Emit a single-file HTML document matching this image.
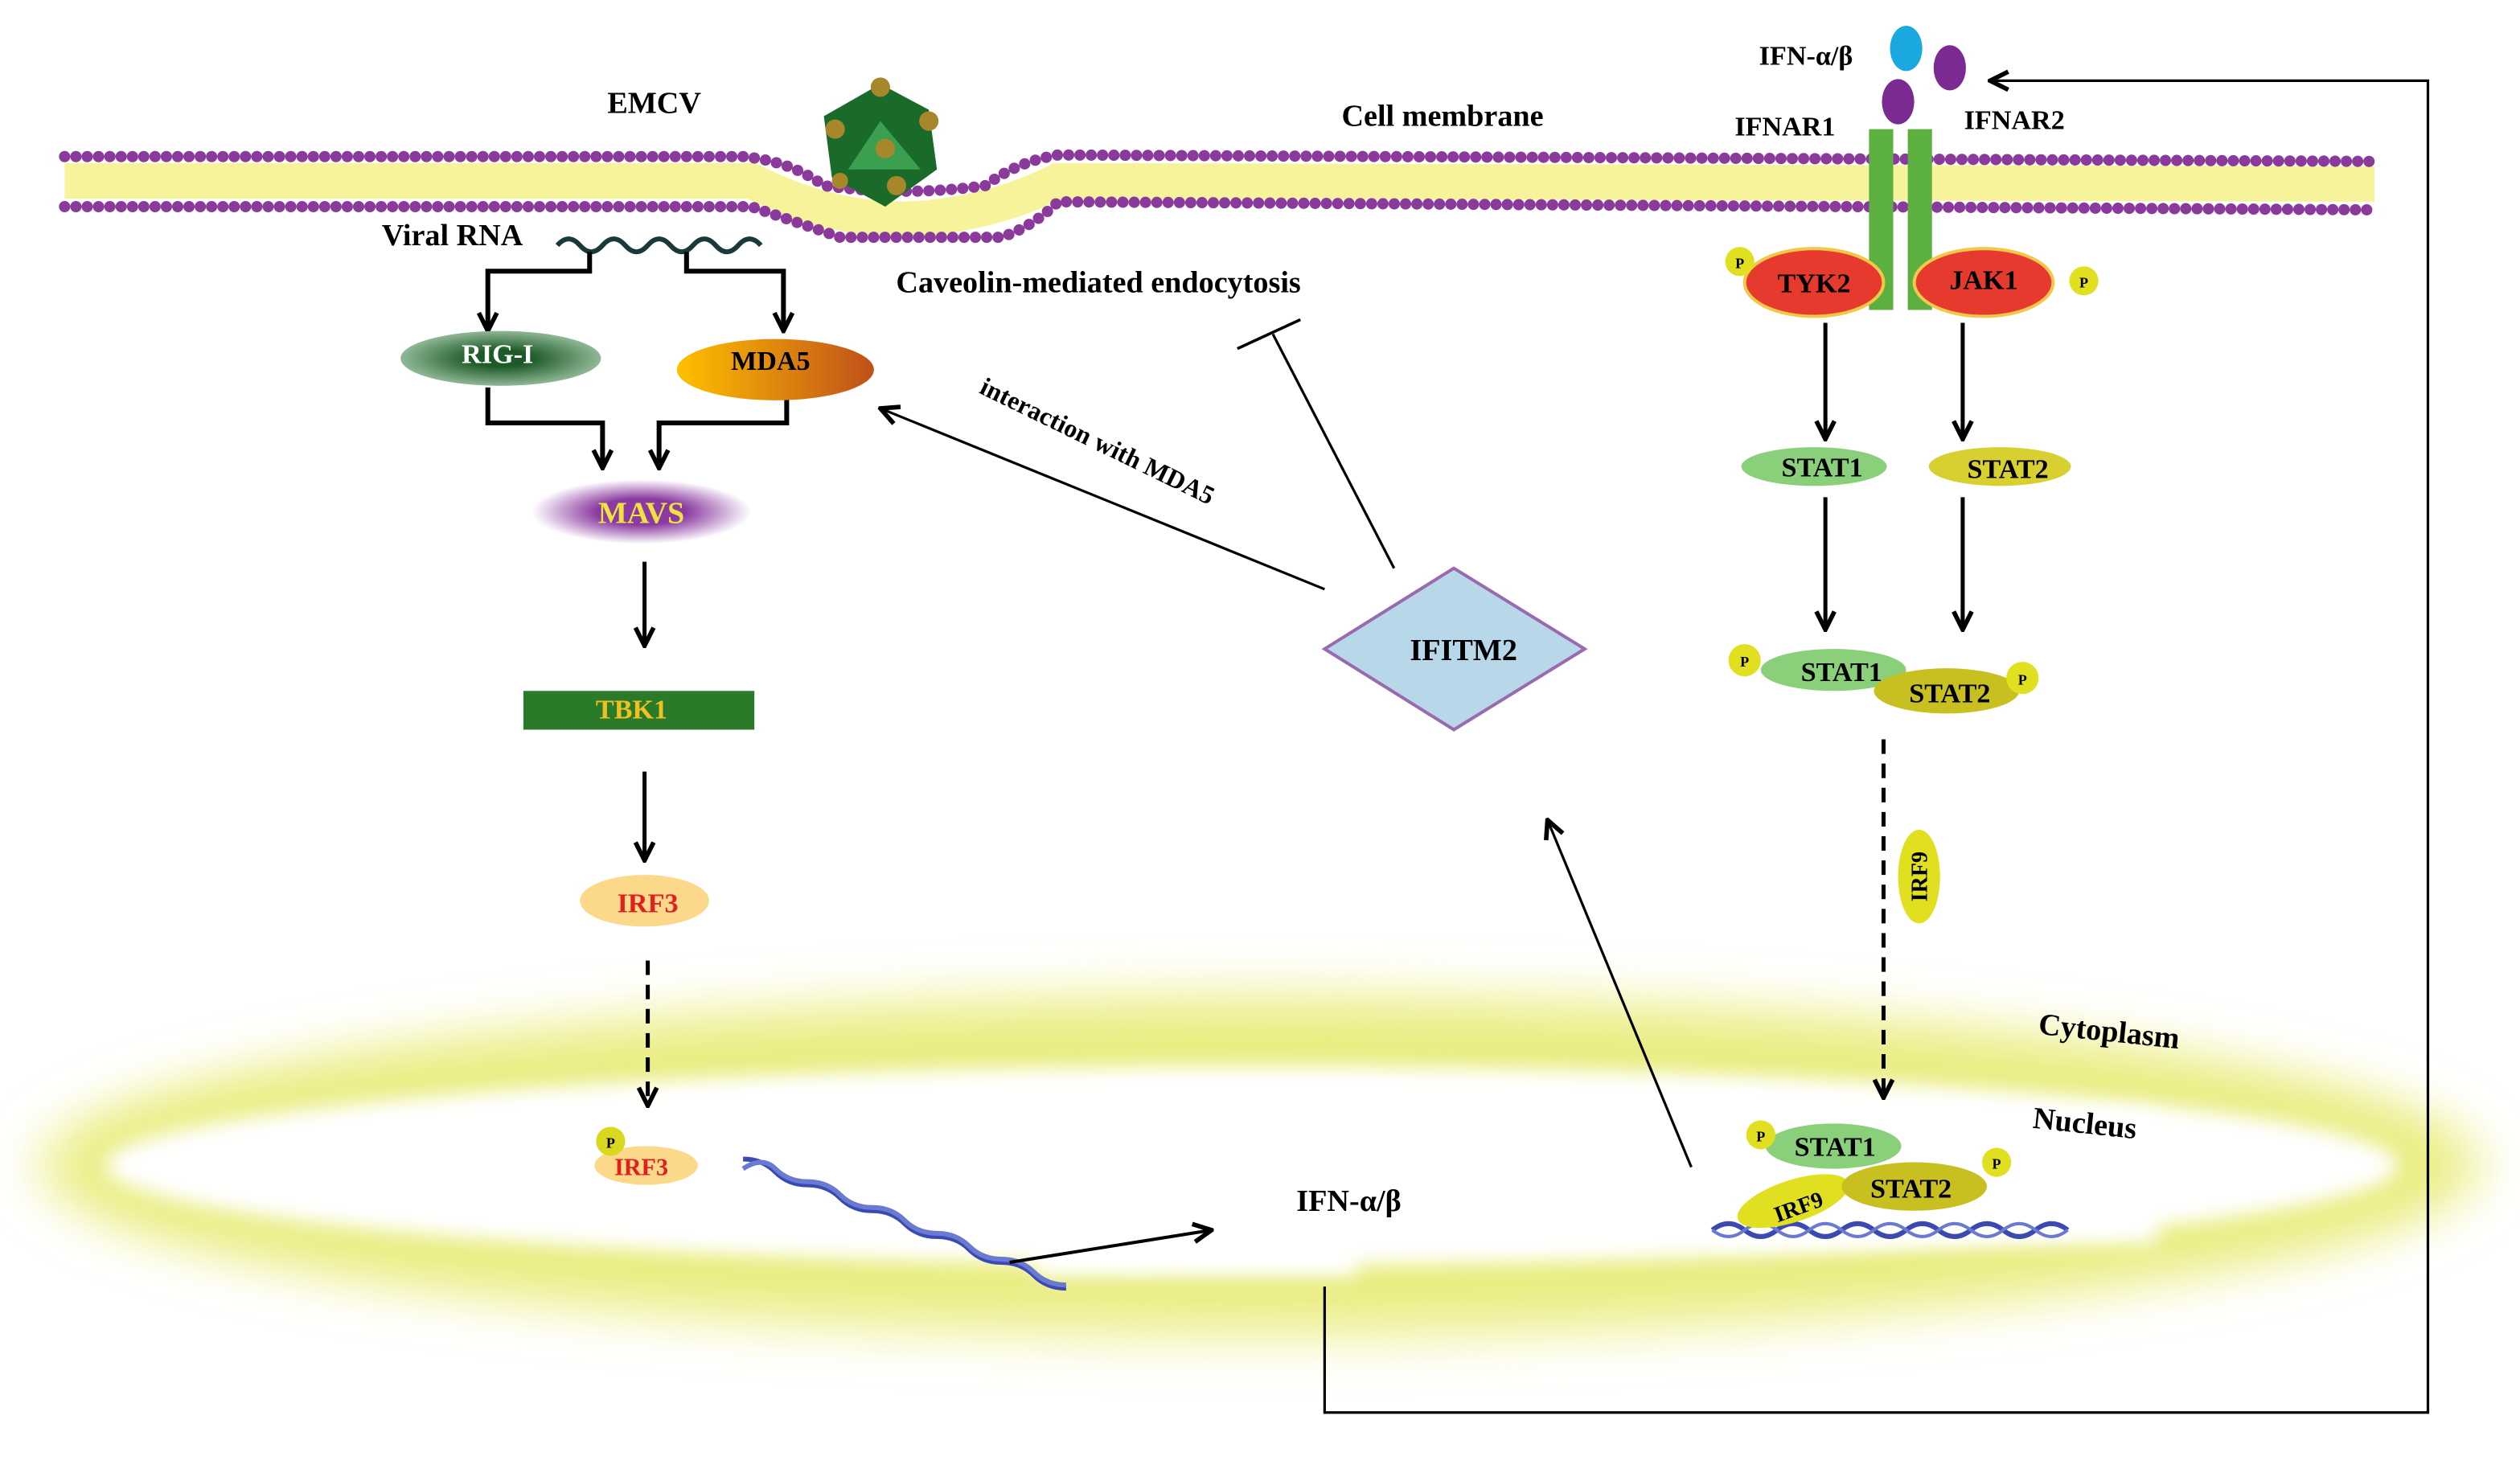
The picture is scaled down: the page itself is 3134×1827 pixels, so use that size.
<!DOCTYPE html>
<html><head><meta charset="utf-8"><style>
html,body{margin:0;padding:0;background:#fff;}
svg{display:block}
text{font-family:"Liberation Serif",serif;font-weight:bold;}
</style></head><body>
<svg width="3134" height="1827" viewBox="0 0 1560 910" preserveAspectRatio="none" xmlns="http://www.w3.org/2000/svg">
<defs>
<marker id="ahb" viewBox="0 0 10 10" refX="9" refY="5" markerWidth="14" markerHeight="14" orient="auto" markerUnits="userSpaceOnUse"><path d="M1,1 L9,5 L1,9" fill="none" stroke="#000" stroke-width="2"/></marker>
<filter id="blur" x="-10%" y="-50%" width="120%" height="200%"><feGaussianBlur stdDeviation="14"/></filter>
<filter id="blur2" x="-10%" y="-50%" width="120%" height="200%"><feGaussianBlur stdDeviation="6"/></filter>
<radialGradient id="mavs"><stop offset="0.4" stop-color="#8a3aa0"/><stop offset="1" stop-color="#fff"/></radialGradient>
<linearGradient id="mda5" x1="0" x2="1"><stop offset="0" stop-color="#ffc000"/><stop offset="1" stop-color="#c0501a"/></linearGradient>
<radialGradient id="rig"><stop offset="0.3" stop-color="#1e5a28"/><stop offset="1" stop-color="#8fb896"/></radialGradient>
</defs>
<!-- nucleus glow -->
<ellipse cx="780" cy="722" rx="760" ry="110" fill="#f2f3a8" filter="url(#blur)"/>
<ellipse cx="780" cy="722" rx="735" ry="88" fill="#e6ea70" filter="url(#blur)" opacity="0.8"/>
<ellipse cx="775" cy="722" rx="710" ry="62" fill="#fff" filter="url(#blur2)"/>
<rect x="1060" y="690" width="275" height="80" fill="#fff" filter="url(#blur2)"/>
<rect x="640" y="740" width="200" height="50" fill="#fff" filter="url(#blur2)"/>
<!-- membrane tails -->
<path d="M40,112 L465,112 Q520,140 575,135 Q620,130 655,112 L1470,114" stroke="#f7f39a" stroke-width="22" fill="none"/>
<path d="M40,97 L460,97 Q490,100 510,115 Q560,122 610,115 Q630,100 655,96 L1470,100" stroke="#8a3a9a" stroke-width="7" stroke-linecap="round" stroke-dasharray="0 7" fill="none"/>
<path d="M40,128 L465,128 Q500,140 520,147 L620,147 Q640,140 655,125 L1470,130" stroke="#8a3a9a" stroke-width="7" stroke-linecap="round" stroke-dasharray="0 7" fill="none"/>
<!-- virus -->
<polygon points="545,52 575,68 580,105 548,128 515,110 510,72" fill="#1a6b2a"/>
<polygon points="545,75 570,105 525,105" fill="#3aa050"/>
<g fill="#a8872a"><circle cx="545" cy="54" r="6"/><circle cx="575" cy="75" r="6"/><circle cx="517" cy="80" r="6"/><circle cx="548" cy="92" r="6"/><circle cx="555" cy="115" r="6"/><circle cx="520" cy="112" r="5"/></g>
<!-- labels top -->
<text x="405" y="70" font-size="19" text-anchor="middle">EMCV</text>
<text x="893" y="78" font-size="19" text-anchor="middle">Cell membrane</text>
<text x="1118" y="40" font-size="17" text-anchor="middle">IFN-α/β</text>
<text x="1105" y="84" font-size="17" text-anchor="middle">IFNAR1</text>
<text x="1247" y="80" font-size="17" text-anchor="middle">IFNAR2</text>
<ellipse cx="1180" cy="30" rx="10" ry="14" fill="#1aa8e0"/>
<ellipse cx="1207" cy="42" rx="10" ry="14" fill="#7a2a90"/>
<ellipse cx="1175" cy="63" rx="10" ry="14" fill="#7a2a90"/>
<rect x="1157" y="80" width="15" height="112" fill="#5cb040"/>
<rect x="1181" y="80" width="15" height="112" fill="#5cb040"/>
<!-- TYK2 / JAK1 -->
<ellipse cx="1123" cy="175" rx="43" ry="21" fill="#e63a2e" stroke="#f2c84a" stroke-width="2"/>
<ellipse cx="1228" cy="175" rx="43" ry="21" fill="#e63a2e" stroke="#f2c84a" stroke-width="2"/>
<text x="1123" y="181" font-size="17" text-anchor="middle">TYK2</text>
<text x="1228" y="179" font-size="17" text-anchor="middle">JAK1</text>
<circle cx="1077" cy="162" r="9" fill="#e0e020"/><text x="1077" y="166" font-size="9" text-anchor="middle" font-weight="normal">P</text>
<circle cx="1290" cy="174" r="9" fill="#e0e020"/><text x="1290" y="178" font-size="9" text-anchor="middle" font-weight="normal">P</text>
<!-- viral RNA -->
<text x="280" y="152" font-size="19" text-anchor="middle">Viral  RNA</text>
<path d="M345,152 q7,-8 14,0 t14,0 t14,0 t14,0 t14,0 t14,0 t14,0 t14,0 t14,0" stroke="#1a3a3a" stroke-width="3" fill="none"/>
<g stroke="#000" stroke-width="3" fill="none">
<path d="M365,156 V168 H302 V205" marker-end="url(#ahb)"/>
<path d="M425,156 V168 H485 V205" marker-end="url(#ahb)"/>
<path d="M302,240 V262 H373 V290" marker-end="url(#ahb)"/>
<path d="M487,240 V262 H408 V290" marker-end="url(#ahb)"/>
</g>
<ellipse cx="310" cy="222" rx="62" ry="17" fill="url(#rig)"/>
<text x="308" y="225" font-size="17" text-anchor="middle" fill="#fff">RIG-I</text>
<ellipse cx="480" cy="229" rx="61" ry="19" fill="url(#mda5)"/>
<text x="477" y="229" font-size="17" text-anchor="middle">MDA5</text>
<ellipse cx="397" cy="317" rx="68" ry="20" fill="url(#mavs)"/>
<text x="397" y="324" font-size="19" text-anchor="middle" fill="#f0e040">MAVS</text>
<g stroke="#000" stroke-width="2.5" fill="none">
<path d="M399,348 V400" marker-end="url(#ahb)"/>
<path d="M399,478 V533" marker-end="url(#ahb)"/>
<path d="M401,595 V685" stroke-dasharray="9 6" marker-end="url(#ahb)"/>
<path d="M1166,458 V680" stroke-dasharray="9 6" marker-end="url(#ahb)"/>
<path d="M1130,200 V272" marker-end="url(#ahb)"/>
<path d="M1215,200 V272" marker-end="url(#ahb)"/>
<path d="M1130,308 V390" marker-end="url(#ahb)"/>
<path d="M1215,308 V390" marker-end="url(#ahb)"/>
</g>
<rect x="324" y="428" width="143" height="24" fill="#2a7a2a"/>
<text x="391" y="445" font-size="17" text-anchor="middle" fill="#f0c020">TBK1</text>
<ellipse cx="399" cy="558" rx="40" ry="16" fill="#fcd88a"/>
<text x="401" y="565" font-size="17" text-anchor="middle" fill="#e02020">IRF3</text>
<!-- nucleus IRF3 -->
<ellipse cx="400" cy="722" rx="32" ry="12" fill="#fcd88a"/>
<text x="397" y="728" font-size="15" text-anchor="middle" fill="#e02020">IRF3</text>
<circle cx="378" cy="707" r="9" fill="#d8d820"/><text x="378" y="711" font-size="9" text-anchor="middle" font-weight="normal">P</text>
<!-- DNA -->
<path d="M460,718 q12,0 20,8 t20,8 t20,8 t20,8 t20,8 t20,8 t20,8 t20,8 t20,8 t20,8" stroke="#3a4ab0" stroke-width="3" fill="none"/>
<path d="M460,724 q12,-8 20,0 t20,8 t20,8 t20,8 t20,8 t20,8 t20,8 t20,8 t20,8 t20,8" stroke="#6a7ad0" stroke-width="3" fill="none"/>
<path d="M625,782 L750,762" stroke="#000" stroke-width="2" marker-end="url(#ahb)"/>
<text x="835" y="750" font-size="19" text-anchor="middle">IFN-α/β</text>
<!-- feedback -->
<path d="M820,797 V875 H1503 V50 H1232" stroke="#000" stroke-width="1.6" fill="none" marker-end="url(#ahb)"/>
<!-- caveolin -->
<text x="680" y="181" font-size="19" text-anchor="middle">Caveolin-mediated endocytosis</text>
<path d="M863,352 L788,207" stroke="#000" stroke-width="1.6"/>
<path d="M766,216 L805,198" stroke="#000" stroke-width="1.8"/>
<path d="M820,365 L545,253" stroke="#000" stroke-width="1.6" marker-end="url(#ahb)"/>
<text x="0" y="0" font-size="16" text-anchor="middle" transform="translate(677,278) rotate(26)">interaction with MDA5</text>
<path d="M1047,723 L958,508" stroke="#000" stroke-width="1.6" marker-end="url(#ahb)"/>
<polygon points="820,402 900,352 981,402 900,452" fill="#b8d8ea" stroke="#9a6ab0" stroke-width="2"/>
<text x="906" y="409" font-size="19" text-anchor="middle">IFITM2</text>
<!-- STATs -->
<ellipse cx="1123" cy="289" rx="45" ry="12" fill="#8ad07a"/>
<text x="1128" y="295" font-size="17" text-anchor="middle">STAT1</text>
<ellipse cx="1238" cy="289" rx="44" ry="12" fill="#d8d030"/>
<text x="1243" y="296" font-size="17" text-anchor="middle">STAT2</text>
<ellipse cx="1135" cy="415" rx="45" ry="13" fill="#8ad07a"/>
<ellipse cx="1205" cy="428" rx="45" ry="14" fill="#c8c020"/>
<text x="1140" y="422" font-size="17" text-anchor="middle">STAT1</text>
<text x="1207" y="435" font-size="17" text-anchor="middle">STAT2</text>
<circle cx="1080" cy="409" r="10" fill="#e0e020"/><text x="1080" y="413" font-size="9" text-anchor="middle" font-weight="normal">P</text>
<circle cx="1252" cy="420" r="10" fill="#e0e020"/><text x="1252" y="424" font-size="9" text-anchor="middle" font-weight="normal">P</text>
<ellipse cx="1188" cy="543" rx="13" ry="29" fill="#e0e020"/>
<text x="0" y="0" font-size="14" text-anchor="middle" transform="translate(1193,543) rotate(-90)">IRF9</text>
<text x="0" y="0" font-size="19" text-anchor="middle" transform="translate(1305,645) rotate(6)">Cytoplasm</text>
<text x="0" y="0" font-size="19" text-anchor="middle" transform="translate(1290,702) rotate(6)">Nucleus</text>
<!-- nuclear complex -->
<path d="M1060,762 q10,-8 20,0 t20,0 t20,0 t20,0 t20,0 t20,0 t20,0 t20,0 t20,0 t20,0 t20,0" stroke="#3a4ab0" stroke-width="3" fill="none"/>
<path d="M1060,762 q10,8 20,0 t20,0 t20,0 t20,0 t20,0 t20,0 t20,0 t20,0 t20,0 t20,0 t20,0" stroke="#6a7ad0" stroke-width="2" fill="none"/>
<ellipse cx="1110" cy="744" rx="36" ry="13" fill="#e0e020" transform="rotate(-18 1110 744)"/>
<text x="0" y="0" font-size="14" text-anchor="middle" transform="translate(1115,752) rotate(-20)">IRF9</text>
<ellipse cx="1185" cy="735" rx="45" ry="15" fill="#c8c020"/>
<text x="1183" y="742" font-size="17" text-anchor="middle">STAT2</text>
<ellipse cx="1135" cy="710" rx="42" ry="14" fill="#8ad07a"/>
<text x="1136" y="716" font-size="17" text-anchor="middle">STAT1</text>
<circle cx="1090" cy="703" r="9" fill="#e0e020"/><text x="1090" y="707" font-size="9" text-anchor="middle" font-weight="normal">P</text>
<circle cx="1236" cy="720" r="9" fill="#e0e020"/><text x="1236" y="724" font-size="9" text-anchor="middle" font-weight="normal">P</text>
</svg>
</body></html>
